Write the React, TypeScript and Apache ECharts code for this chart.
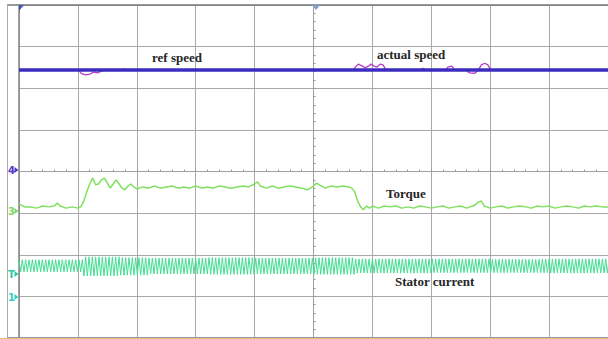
import React, { useEffect, useRef } from "react";
import * as echarts from "echarts";

// time in screen divisions (trigger at 0), values in vertical divisions
const torqueTime = [
  -5.0, -4.9, -4.8, -4.7, -4.6, -4.5, -4.4, -4.35, -4.3, -4.2, -4.1, -4.0, -3.95, -3.9, -3.85, -3.8,
  -3.75, -3.7, -3.65, -3.6, -3.55, -3.5, -3.45, -3.4, -3.35, -3.3, -3.25, -3.2, -3.15, -3.1, -3.05,
  -3.0, -2.9, -2.8, -2.7, -2.6, -2.5, -2.4, -2.3, -2.2, -2.1, -2.0, -1.9, -1.8, -1.7, -1.6, -1.5,
  -1.4, -1.3, -1.2, -1.1, -1.0, -0.95, -0.9, -0.8, -0.7, -0.6, -0.5, -0.4, -0.3, -0.2, -0.1, 0.0,
  0.05, 0.1, 0.2, 0.3, 0.4, 0.5, 0.6, 0.65, 0.7, 0.75, 0.8, 0.85, 0.9, 0.95, 1.0, 1.1, 1.2, 1.3,
  1.4, 1.5, 1.6, 1.7, 1.8, 1.9, 2.0, 2.1, 2.2, 2.3, 2.4, 2.5, 2.6, 2.7, 2.75, 2.8, 2.85, 2.9, 3.0,
  3.1, 3.2, 3.3, 3.4, 3.5, 3.6, 3.7, 3.8, 3.9, 4.0, 4.1, 4.2, 4.3, 4.4, 4.5, 4.6, 4.7, 4.8, 4.9, 5.0,
];
const torqueValue = [
  -0.78, -0.85, -0.85, -0.88, -0.83, -0.85, -0.83, -0.76, -0.83, -0.88, -0.85, -0.88, -0.85, -0.71, -0.49, -0.3,
  -0.16, -0.32, -0.3, -0.2, -0.16, -0.28, -0.4, -0.3, -0.2, -0.3, -0.4, -0.44, -0.35, -0.3, -0.37,
  -0.42, -0.37, -0.4, -0.35, -0.4, -0.37, -0.35, -0.4, -0.37, -0.4, -0.35, -0.4, -0.37, -0.4, -0.35, -0.37,
  -0.4, -0.37, -0.35, -0.37, -0.3, -0.25, -0.35, -0.4, -0.35, -0.4, -0.37, -0.35, -0.37, -0.4, -0.44, -0.35,
  -0.28, -0.32, -0.4, -0.35, -0.37, -0.35, -0.37, -0.4, -0.49, -0.71, -0.85, -0.92, -0.83, -0.88, -0.83, -0.88, -0.83, -0.85,
  -0.83, -0.88, -0.85, -0.88, -0.83, -0.85, -0.88, -0.85, -0.83, -0.88, -0.85, -0.83, -0.88, -0.83, -0.8, -0.73, -0.71, -0.83, -0.88,
  -0.85, -0.83, -0.88, -0.85, -0.83, -0.85, -0.88, -0.83, -0.85, -0.83, -0.88, -0.85, -0.83, -0.85, -0.88, -0.83, -0.85, -0.83, -0.85, -0.85,
];

const actualSpeedTime = [
  -5.0, -3.99, -3.94, -3.87, -3.8, -3.73, -3.67, -3.6, -3.53, -3.29, -3.23, -3.16, 0.68, 0.71, 0.76,
  0.83, 0.88, 0.93, 0.98, 1.03, 1.08, 1.13, 1.18, 1.23, 1.81, 1.86, 1.91, 2.25, 2.28, 2.35, 2.4,
  2.58, 2.65, 2.74, 2.8, 2.85, 2.91, 2.96, 3.01, 5.0,
];
const actualSpeedValue = [
  2.44, 2.44, 2.35, 2.32, 2.34, 2.39, 2.37, 2.41, 2.44, 2.44, 2.46, 2.44, 2.44, 2.51, 2.58,
  2.53, 2.49, 2.53, 2.58, 2.53, 2.51, 2.58, 2.56, 2.44, 2.44, 2.48, 2.44, 2.44, 2.51, 2.53, 2.44,
  2.44, 2.37, 2.36, 2.44, 2.56, 2.6, 2.56, 2.44, 2.44,
];

const refSpeedTime = [-5.0, 5.0];
const refSpeedValue = [2.44, 2.44];

// stator current: envelope read per time segment, oscillation period
const currentSegStart = [-5.0, -3.9, -3.3, -2.8, -1.8, -1.0, 0.0, 0.7, 2.0, 3.0, 4.0];
const currentUpper = [-2.12, -2.05, -2.07, -2.08, -2.07, -2.08, -2.07, -2.1, -2.1, -2.11, -2.1];
const currentLower = [-2.41, -2.51, -2.49, -2.46, -2.47, -2.46, -2.47, -2.44, -2.43, -2.43, -2.44];
const currentPeriod = 0.0566;

const traceLabels = ["ref speed", "actual speed", "Torque", "Stator current"];
const channelMarks = ["4", "3", "T", "1"];

function buildCurrent() {
  const out: number[][] = [];
  const half = currentPeriod / 2;
  for (let k = 0; ; k++) {
    const t = -5 + k * half;
    if (t > 5.05) break;
    let s = 0;
    while (s + 1 < currentSegStart.length && currentSegStart[s + 1] <= t) s++;
    out.push([t, k % 2 === 0 ? currentUpper[s] : currentLower[s]]);
  }
  return out;
}

const zip = (a: number[], b: number[]) => a.map((v, i) => [v, b[i]]);

export default function App() {
  const ref = useRef<HTMLDivElement>(null);
  useEffect(() => {
    document.body.style.margin = "0";
    const chart = echarts.init(ref.current!, null, { renderer: "svg" });
    const labelFont = { fontFamily: "Liberation Serif", fontWeight: "bold", fontSize: 13, fill: "#262626" };
    const labelPos = [
      [152, 57],
      [377, 54],
      [386, 193],
      [395, 281],
    ];
    const markColors = ["#5535c8", "#7ed860", "#2fc8a0", "#35cfc0"];
    const markY = [170, 211, 274, 297];
    const graphic: any[] = [
      { type: "line", shape: { x1: 7, y1: 5, x2: 608, y2: 5 }, style: { stroke: "#777", lineWidth: 1.5 }, z: 10 },
      { type: "line", shape: { x1: 7.5, y1: 5, x2: 7.5, y2: 338 }, style: { stroke: "#aaa", lineWidth: 1 }, z: 10 },
      { type: "line", shape: { x1: 7, y1: 337.5, x2: 608, y2: 337.5 }, style: { stroke: "#9a9a9a", lineWidth: 1 }, z: 10 },
      { type: "line", shape: { x1: 0, y1: 338.5, x2: 608, y2: 338.5 }, style: { stroke: "#e2bd7a", lineWidth: 1 }, z: 10 },
      { type: "polygon", shape: { points: [[19, 5], [24, 5], [19, 11]] }, style: { fill: "#3a5ab0" }, z: 11 },
      { type: "polygon", shape: { points: [[312, 5], [320, 5], [316, 10]] }, style: { fill: "#7f9ccc" }, z: 11 },
    ];
    traceLabels.forEach((t, i) => {
      graphic.push({
        type: "text",
        x: labelPos[i][0],
        y: labelPos[i][1],
        style: { ...labelFont, text: t, verticalAlign: "middle", align: "left" },
        z: 12,
      });
    });
    channelMarks.forEach((t, i) => {
      graphic.push({
        type: "text",
        x: 8,
        y: markY[i],
        style: { text: t, fontFamily: "DejaVu Sans", fontSize: 10, fontWeight: "bold", fill: markColors[i], verticalAlign: "middle", align: "left" },
        z: 12,
      });
      graphic.push({
        type: "polygon",
        shape: { points: [[14.5, markY[i] - 3], [18.5, markY[i]], [14.5, markY[i] + 3]] },
        style: { fill: markColors[i] },
        z: 12,
      });
    });
    const tickCommon = {
      axisLabel: { show: false },
      axisTick: { show: true, length: 3, inside: true, lineStyle: { color: "#999" } },
      minorTick: { show: true, splitNumber: 5, length: 2, lineStyle: { color: "#999" } },
      splitLine: { show: true, lineStyle: { color: "#a9a9a9", width: 1 } },
    };
    chart.setOption({
      animation: false,
      backgroundColor: "#ffffff",
      grid: { left: 19, top: 5, right: -3, bottom: 1, containLabel: false },
      xAxis: {
        type: "value",
        min: -5,
        max: 5,
        interval: 1,
        axisLine: { show: true, onZero: true, lineStyle: { color: "#a0a0a0" } },
        ...tickCommon,
      },
      yAxis: [
        {
          type: "value",
          min: -4,
          max: 4,
          interval: 1,
          axisLine: { show: true, onZero: true, lineStyle: { color: "#a0a0a0" } },
          ...tickCommon,
        },
        {
          type: "value",
          min: -4,
          max: 4,
          interval: 1,
          position: "left",
          axisLine: { show: true, onZero: false, lineStyle: { color: "#858585", width: 1.5 } },
          axisLabel: { show: false },
          axisTick: { show: false },
          splitLine: { show: false },
        },
      ],
      graphic,
      series: [
        {
          name: "Stator current",
          type: "line",
          data: buildCurrent(),
          symbol: "none",
          silent: true,
          lineStyle: { color: "#44de92", width: 1 },
          z: 2,
        },
        {
          name: "Torque",
          type: "line",
          data: zip(torqueTime, torqueValue),
          symbol: "none",
          silent: true,
          lineStyle: { color: "#80e060", width: 1.5 },
          z: 3,
        },
        {
          name: "actual speed",
          type: "line",
          data: zip(actualSpeedTime, actualSpeedValue),
          symbol: "none",
          silent: true,
          lineStyle: { color: "#b23fc4", width: 1.3 },
          z: 4,
        },
        {
          name: "ref speed",
          type: "line",
          data: zip(refSpeedTime, refSpeedValue),
          symbol: "none",
          silent: true,
          lineStyle: { color: "#3b2cc0", width: 3.5 },
          z: 5,
        },
      ],
    });
    return () => chart.dispose();
  }, []);
  return <div ref={ref} style={{ width: 608, height: 339 }} />;
}
